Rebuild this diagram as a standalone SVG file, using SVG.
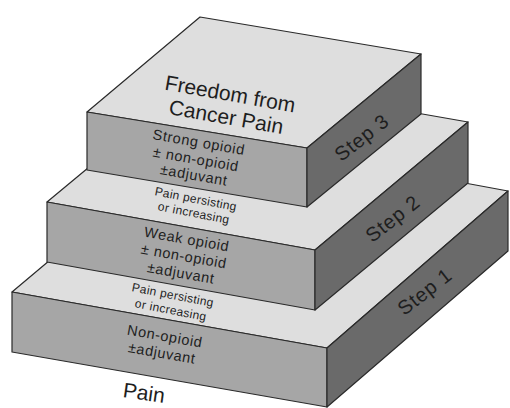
<svg xmlns="http://www.w3.org/2000/svg" width="510" height="408" viewBox="0 0 510 408">
<style>
.top{fill:#dedede;stroke:#2a2a2a;stroke-width:1.2;stroke-linejoin:round}
.front{fill:#a6a6a6;stroke:#2a2a2a;stroke-width:1.2;stroke-linejoin:round}
.side{fill:#6a6a6a;stroke:#2a2a2a;stroke-width:1.2;stroke-linejoin:round}
text{font-family:"Liberation Sans",Arial,sans-serif;fill:#1e1e1e;text-anchor:middle}
.big{font-size:21px}
.mid{font-size:14.5px;letter-spacing:0.6px}
.small{font-size:12px;letter-spacing:0.3px}
.step{font-size:20px;letter-spacing:0.8px}
</style>
<rect width="510" height="408" fill="#ffffff"/>
<g id="step1">
<polygon class="top" points="12,292 200,134 508,191 327,348"/>
<polygon class="front" points="12,292 327,348 327,407 12,352"/>
<polygon class="side" points="327,348 508,191 508,251 327,407"/>
<text class="small" x="172" y="299" transform="rotate(11 172 299)">Pain persisting</text>
<text class="small" x="170" y="314" transform="rotate(11 170 314)">or increasing</text>
<text class="mid" x="164" y="341" transform="rotate(10 164 341)">Non-opioid</text>
<text class="mid" x="161" y="358" transform="rotate(10 161 358)">±adjuvant</text>
<text class="step" x="429" y="297" transform="rotate(-38 429 297)">Step 1</text>
</g>
<g id="step2">
<polygon class="top" points="47,202 200,75 468,122 315,250"/>
<polygon class="front" points="47,202 315,250 315,310 47,262"/>
<polygon class="side" points="315,250 468,122 468,183 315,310"/>
<text class="small" x="195" y="203" transform="rotate(11 195 203)">Pain persisting</text>
<text class="small" x="193" y="217" transform="rotate(11 193 217)">or increasing</text>
<text class="mid" x="186" y="244" transform="rotate(10 186 244)">Weak opioid</text>
<text class="mid" x="183" y="261" transform="rotate(10 183 261)">± non-opioid</text>
<text class="mid" x="180" y="278" transform="rotate(10 180 278)">±adjuvant</text>
<text class="step" x="397" y="224" transform="rotate(-38 397 224)">Step 2</text>
</g>
<g id="step3">
<polygon class="top" points="87,112 200,17 421,54 307,148"/>
<polygon class="front" points="87,112 307,148 307,207 87,170"/>
<polygon class="side" points="307,148 421,54 421,114 307,207"/>
<text class="big" x="229" y="101" transform="rotate(10 229 101)">Freedom from</text>
<text class="big" x="225" y="124" transform="rotate(10 225 124)">Cancer Pain</text>
<text class="mid" x="198" y="147" transform="rotate(10 198 147)">Strong opioid</text>
<text class="mid" x="195" y="164" transform="rotate(10 195 164)">± non-opioid</text>
<text class="mid" x="193" y="180" transform="rotate(10 193 180)">±adjuvant</text>
<text class="step" x="366" y="143" transform="rotate(-38 366 143)">Step 3</text>
</g>
<g id="pain">
<text class="big" x="143" y="400" transform="rotate(8 143 400)">Pain</text>
</g>
</svg>
